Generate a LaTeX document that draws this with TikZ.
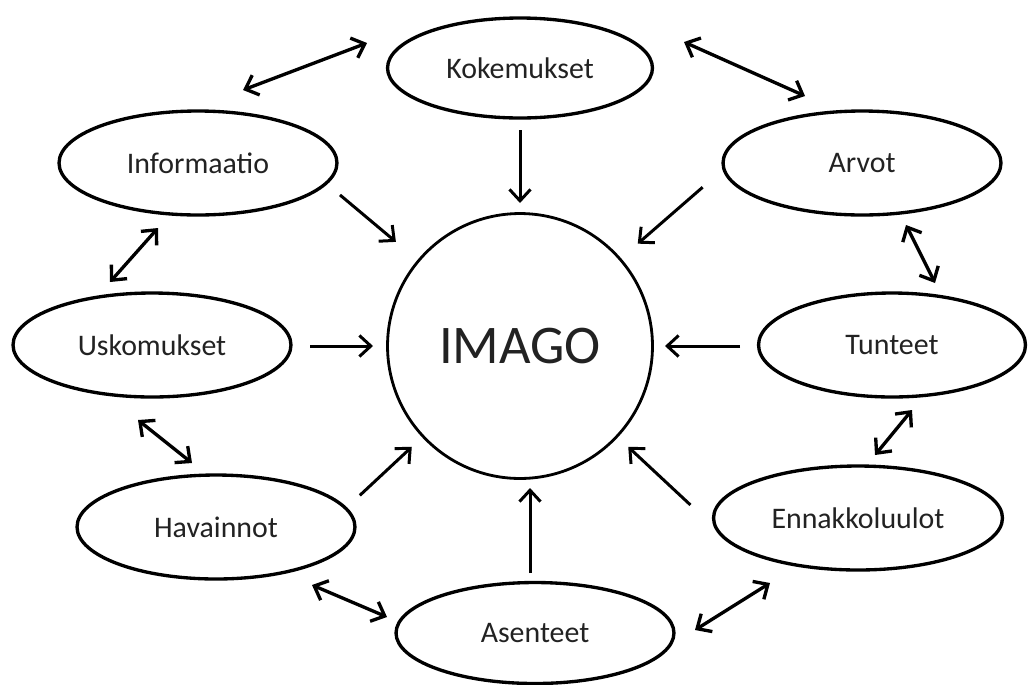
\documentclass[tikz,border=0pt]{standalone}
\usepackage{fontspec}
\setmainfont{Carlito}
\usetikzlibrary{calc, arrows.meta, shapes.geometric}
\definecolor{Ink}{HTML}{000000}
\definecolor{Label}{HTML}{222222}
\tikzset{
    bubble/.style={ellipse, draw=Ink, line width=1.9pt, minimum width=5.56cm, minimum height=2.08cm, inner sep=0pt, text=Label, font=\fontsize{17}{20}\selectfont},
    core/.style={circle, draw=Ink, line width=1.6pt, minimum size=5.3cm, inner sep=0pt, text=Label, font=\fontsize{31}{37}\selectfont},
    arrow/.style={-{Straight Barb[length=6.5pt, width=12pt]}, line width=1.7pt, color=Ink},
    dblarrow/.style={{Straight Barb[length=6.5pt, width=12pt]}-{Straight Barb[length=6.5pt, width=12pt]}, line width=1.9pt, color=Ink},
}
\begin{document}
\begin{tikzpicture}[x=0.02cm, y=0.02cm]
                \useasboundingbox (0,0) rectangle (1030,-684);
                % Keskus
                \node[core] (img) at (520,-346) {IMAGO};

                % Ympyrän ympärillä olevat tekijät
                \node[bubble, minimum width=5.3cm, minimum height=2.0cm] (kok) at (520,-68) {Kokemukset};
                \node[bubble] (inf) at (198,-163) {Informaatio};
                \node[bubble] (arv) at (862,-163) {Arvot};
                \node[bubble] (usk) at (152,-345) {Uskomukset};
                \node[bubble, minimum width=5.34cm] (tun) at (892,-345) {Tunteet};
                \node[bubble] (hav) at (216,-527) {Havainnot};
                \node[bubble, minimum width=5.78cm] (enn) at (858,-518) {Ennakkoluulot};
                \node[bubble, minimum height=2.02cm] (ase) at (535,-633) {Asenteet};

                % Nuolet kohti keskusta
                \foreach \a/\r/\R in {90/143/216, 140/162/235, 41/156/242, 180/147/210, 0/145/220, 223/148/219, 317/148/233}
                    \draw[arrow] ($(img)+(\a:\R)$) -- ($(img)+(\a:\r)$);
                \draw[arrow] ($(img)+(10,-227)$) -- ($(img)+(10,-142)$);

                % Kaksisuuntaiset nuolet naapureiden välillä
                \draw[dblarrow] ($(kok)+(-153,25)$) -- ($(inf)+(45,73)$);
                \draw[dblarrow] ($(kok)+(164,26)$) -- ($(arv)+(-57,67)$);
                \draw[dblarrow] ($(inf)+(-40,-65)$) -- ($(usk)+(-42,63)$);
                \draw[dblarrow] ($(arv)+(44,-62)$) -- ($(tun)+(43,62)$);
                \draw[dblarrow] ($(usk)+(-14,-75)$) -- ($(hav)+(-24,64)$);
                \draw[dblarrow] ($(tun)+(20,-65)$) -- ($(enn)+(17,63)$);
                \draw[dblarrow] ($(hav)+(96,-58)$) -- ($(ase)+(-148,16)$);
                \draw[dblarrow] ($(ase)+(160,3)$) -- ($(enn)+(-88,-65)$);
            \end{tikzpicture}
\end{document}
